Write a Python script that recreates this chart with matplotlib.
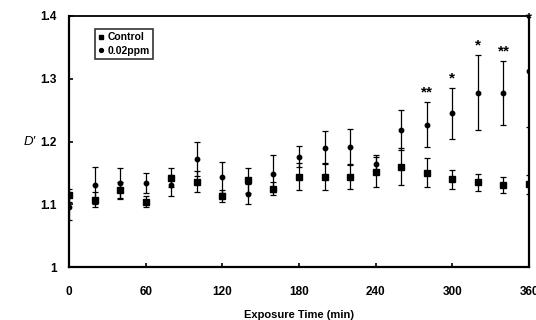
import matplotlib
matplotlib.use('Agg')
import matplotlib.pyplot as plt
from matplotlib.lines import Line2D

plt.rcParams['font.family'] = ['Liberation Sans', 'DejaVu Sans']
plt.rcParams['font.weight'] = 'bold'

# Exposure time (min)
times = [0, 20, 40, 60, 80, 100, 120, 140, 160, 180, 200, 220, 240, 260, 280, 300, 320, 340, 360]

# Control
control = [1.114, 1.107, 1.122, 1.104, 1.142, 1.136, 1.113, 1.138, 1.125, 1.144, 1.144, 1.144,
           1.152, 1.160, 1.150, 1.140, 1.135, 1.131, 1.132]
control_err = [0.010, 0.012, 0.013, 0.009, 0.015, 0.017, 0.010, 0.020, 0.011, 0.022, 0.021, 0.020,
               0.024, 0.030, 0.023, 0.015, 0.014, 0.013, 0.015]

# 0.02ppm
ppm = [1.095, 1.130, 1.134, 1.134, 1.130, 1.172, 1.143, 1.116, 1.149, 1.176, 1.190, 1.191,
       1.164, 1.219, 1.227, 1.245, 1.278, 1.278, 1.313]
ppm_err = [0.020, 0.029, 0.024, 0.016, 0.017, 0.027, 0.025, 0.016, 0.029, 0.017, 0.026, 0.029,
           0.014, 0.032, 0.036, 0.041, 0.060, 0.051, 0.090]

# significance marks
sig_times = [280, 300, 320, 340, 360]
sig_labels = ['**', '*', '*', '**', '*']

fig = plt.figure(figsize=(5.36, 3.2), dpi=100)
ax = fig.add_axes([0.1287, 0.1656, 0.8583, 0.7844])

ax.errorbar(times, control, yerr=control_err, fmt='s', color='black', markersize=3.8,
            capsize=2, elinewidth=0.9, capthick=0.9, zorder=3)
ax.errorbar(times, ppm, yerr=ppm_err, fmt='o', color='black', markersize=3.2,
            capsize=2, elinewidth=0.9, capthick=0.9, zorder=3)

for t, lab in zip(sig_times, sig_labels):
    i = times.index(t)
    y = min(ppm[i] + ppm_err[i] + 0.004, 1.385)
    ax.text(t, y, lab, ha='center', va='bottom', fontsize=11, fontweight='bold', clip_on=False)

ax.set_xlim(0, 360)
ax.set_ylim(1.0, 1.4)
ax.set_xticks([0, 60, 120, 180, 240, 300, 360])
ax.set_yticks([1.0, 1.1, 1.2, 1.3, 1.4])
ax.set_yticklabels(['1', '1.1', '1.2', '1.3', '1.4'])
ax.tick_params(direction='in', length=3, width=1.2, labelsize=8.5, pad=9)
for lab in ax.get_xticklabels() + ax.get_yticklabels():
    lab.set_fontweight('bold')
ax.tick_params(axis='x', pad=14)

for side in ['left', 'bottom', 'right']:
    ax.spines[side].set_linewidth(1.6)
ax.spines['top'].set_linewidth(1.3)

ax.set_xlabel('Exposure Time (min)', fontsize=8, fontweight='bold', labelpad=8)
fig.text(30 / 536, 1 - 142 / 320, "D\u2032", fontsize=9.5, style='italic', fontweight='normal',
         ha='center', va='center')

handles = [Line2D([], [], marker='s', color='black', linestyle='none', markersize=3.5),
           Line2D([], [], marker='o', color='black', linestyle='none', markersize=2.8)]
leg = ax.legend(handles, ['Control', '0.02ppm'], loc='upper left', bbox_to_anchor=(0.057, 0.95),
                fontsize=7.5, frameon=True, fancybox=False, handlelength=0.4, handletextpad=0.4,
                borderpad=0.35, labelspacing=0.35, borderaxespad=0)
leg.get_frame().set_edgecolor('black')
leg.get_frame().set_linewidth(1.2)
for txt in leg.get_texts():
    txt.set_fontweight('bold')

fig.savefig('out.png', dpi=100)
